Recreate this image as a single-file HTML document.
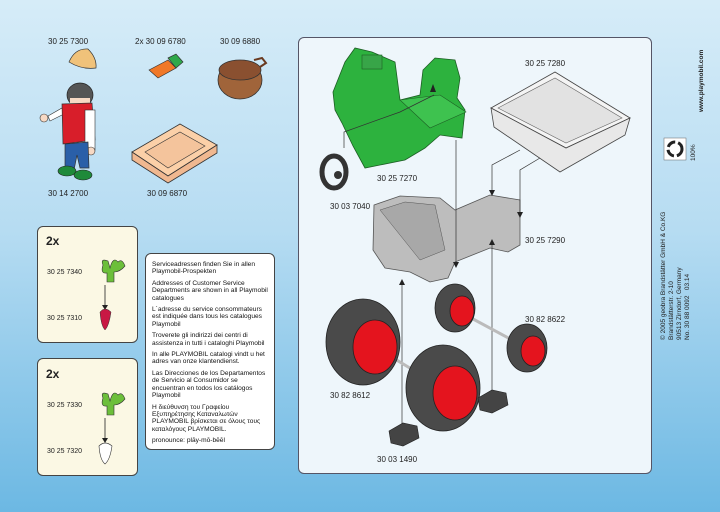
<!DOCTYPE html>
<html><head><meta charset="utf-8"><style>
html,body{margin:0;padding:0}
body{width:720px;height:512px;overflow:hidden;background:linear-gradient(#d6ecf8 0%,#b6dcf2 45%,#6cb8e3 100%);font-family:"Liberation Sans",sans-serif;position:relative}
.l{position:absolute;font-size:8px;color:#222;white-space:nowrap}
.box{position:absolute;background:#fbf8e4;border:1px solid #444;border-radius:6px}
.svc{position:absolute;left:145px;top:253px;width:130px;height:197px;background:#fff;border:1px solid #444;border-radius:6px;font-size:6.6px;line-height:7.4px;color:#111;padding:3px 6px;box-sizing:border-box}
.svc p{margin:4px 0}
.vert{position:absolute;transform:rotate(-90deg);transform-origin:left top;font-size:6.5px;line-height:8px;color:#222;white-space:nowrap}
</style></head><body>
<div class="l" style="left:48px;top:37px">30 25 7300</div>
<div class="l" style="left:135px;top:37px">2x 30 09 6780</div>
<div class="l" style="left:220px;top:37px">30 09 6880</div>
<div class="l" style="left:48px;top:189px">30 14 2700</div>
<div class="l" style="left:147px;top:189px">30 09 6870</div>

<svg style="position:absolute;left:0;top:0" width="300" height="210">
<path d="M69,62 Q75,48 88,49 Q97,58 96,68 Q82,70 69,62Z" fill="#f0c27a" stroke="#333" stroke-width=".7"/>
<path d="M149,70 L168,60 L176,68 L158,78Z" fill="#f07828" stroke="#333" stroke-width=".7"/>
<path d="M168,58 L176,54 L183,62 L176,68Z" fill="#2ea84a" stroke="#333" stroke-width=".7"/>
<ellipse cx="240" cy="80" rx="22" ry="19" fill="#a0643a" stroke="#333" stroke-width=".8"/>
<ellipse cx="240" cy="70" rx="21" ry="10" fill="#8a5030" stroke="#333" stroke-width=".8"/>
<path d="M254,60 l8,-2 4,5 -6,4" fill="none" stroke="#6a3a20" stroke-width="2"/>
<ellipse cx="80" cy="95" rx="13" ry="12" fill="#555" stroke="#222" stroke-width=".7"/>
<rect x="70" y="98" width="20" height="10" fill="#f7d9c4"/>
<path d="M48,116 L62,108 L64,114 L50,121Z" fill="#fff" stroke="#333" stroke-width=".6"/>
<circle cx="44" cy="118" r="4" fill="#f7d9c4" stroke="#333" stroke-width=".6"/>
<path d="M62,104 L92,103 L95,140 L63,144Z" fill="#d81e2a" stroke="#333" stroke-width=".7"/>
<rect x="85" y="110" width="10" height="40" fill="#fff" stroke="#333" stroke-width=".6"/>
<circle cx="91" cy="151" r="4" fill="#f7d9c4" stroke="#333" stroke-width=".6"/>
<path d="M65,144 L88,142 L89,168 L80,168 L77,155 L74,170 L65,170Z" fill="#2a5fa8" stroke="#333" stroke-width=".7"/>
<ellipse cx="67" cy="171" rx="9" ry="5" fill="#1f8a3a" stroke="#222" stroke-width=".6"/>
<ellipse cx="83" cy="175" rx="9" ry="5" fill="#1f8a3a" stroke="#222" stroke-width=".6"/>
<path d="M132,152 L180,124 L217,145 L168,176Z" fill="#fbd0a8" stroke="#333" stroke-width=".8"/>
<path d="M132,152 L132,160 L168,183 L217,153 L217,145 L168,176Z" fill="#f0b890" stroke="#333" stroke-width=".8"/>
<path d="M145,152 L180,132 L205,146 L168,168Z" fill="#f4c49c" stroke="#333" stroke-width=".6"/>
</svg>

<div class="box" style="left:37px;top:226px;width:99px;height:115px"></div>
<div class="box" style="left:37px;top:358px;width:99px;height:116px"></div>
<div class="l" style="left:46px;top:234px;font-size:12px;font-weight:bold">2x</div>
<div class="l" style="left:46px;top:367px;font-size:12px;font-weight:bold">2x</div>
<div class="l" style="left:47px;top:269px;font-size:7px">30 25 7340</div>
<div class="l" style="left:47px;top:315px;font-size:7px">30 25 7310</div>
<div class="l" style="left:47px;top:402px;font-size:7px">30 25 7330</div>
<div class="l" style="left:47px;top:448px;font-size:7px">30 25 7320</div>
<svg style="position:absolute;left:0;top:0" width="140" height="480">
<g id="lf"><path d="M103,265 Q100,258 108,261 L110,268 Q113,256 118,262 Q122,258 125,266 Q120,272 114,272 L114,282 L107,282 L107,273 Q100,274 103,265Z" fill="#6cbf3a" stroke="#333" stroke-width=".6"/></g>
<line x1="105" y1="285" x2="105" y2="305" stroke="#222" stroke-width=".8"/>
<path d="M102,305 L108,305 105,310Z" fill="#222"/>
<path d="M100,312 Q105,306 111,312 Q109,326 105,330 Q101,326 100,312Z" fill="#c81844" stroke="#333" stroke-width=".5"/>
<use href="#lf" transform="translate(0,133)"/>
<line x1="105" y1="418" x2="105" y2="438" stroke="#222" stroke-width=".8"/>
<path d="M102,438 L108,438 105,443Z" fill="#222"/>
<path d="M99,446 Q105,440 112,446 Q110,460 105,464 Q100,460 99,446Z" fill="#fff" stroke="#333" stroke-width=".6"/>
</svg>

<div class="svc">
<p>Serviceadressen finden Sie in allen Playmobil-Prospekten</p>
<p>Addresses of Customer Service Departments are shown in all Playmobil catalogues</p>
<p>L´adresse du service consommateurs est indiquée dans tous les catalogues Playmobil</p>
<p>Troverete gli indirizzi dei centri di assistenza in tutti i cataloghi Playmobil</p>
<p>In alle PLAYMOBIL catalogi vindt u het adres van onze klantendienst.</p>
<p>Las Direcciones de los Departamentos de Servicio al Consumidor se encuentran en todos los catálogos Playmobil</p>
<p>Η διεύθυνση του Γραφείου Εξυπηρέτησης Καταναλωτών PLAYMOBIL βρίσκεται σε όλους τους καταλόγους PLAYMOBIL.</p>
<p>pronounce: plāy-mō-bēēl</p>
</div>

<div style="position:absolute;left:298px;top:37px;width:354px;height:437px;background:#eef6fb;border:1px solid #556;border-radius:6px;box-sizing:border-box"></div>
<div class="l" style="left:525px;top:59px">30 25 7280</div>
<div class="l" style="left:377px;top:174px">30 25 7270</div>
<div class="l" style="left:330px;top:202px">30 03 7040</div>
<div class="l" style="left:525px;top:236px">30 25 7290</div>
<div class="l" style="left:525px;top:315px">30 82 8622</div>
<div class="l" style="left:330px;top:391px">30 82 8612</div>
<div class="l" style="left:377px;top:455px">30 03 1490</div>

<svg style="position:absolute;left:0;top:0" width="720" height="512">
<path d="M491,108 L555,72 L630,118 L566,148Z" fill="#f4f4f4" stroke="#444" stroke-width=".8"/>
<path d="M498,108 L555,78 L622,118 L566,143Z" fill="#e2e2e2" stroke="#666" stroke-width=".6"/>
<path d="M491,108 L494,127 L560,172 L625,135 L630,118 L566,148Z" fill="#e8e8e8" stroke="#444" stroke-width=".8"/>
<path d="M333,92 L345,62 L355,48 L372,52 L395,62 L400,100 L420,95 L423,70 L435,58 L455,60 L460,78 L457,98 L465,110 L462,138 L440,135 L425,148 L405,160 L380,165 L365,168 L353,146 L342,123 L335,110Z" fill="#2db23e" stroke="#1d5e24" stroke-width=".8"/>
<path d="M400,100 L440,95 L466,112 L430,128Z" fill="#3ec24f" stroke="#1d5e24" stroke-width=".6"/>
<rect x="362" y="55" width="20" height="14" fill="#38a548" stroke="#1d5e24" stroke-width=".6"/>
<ellipse cx="334" cy="172" rx="12" ry="16" fill="none" stroke="#333" stroke-width="5"/>
<circle cx="338" cy="175" r="4" fill="#333"/>
<path d="M374,205 L400,196 L440,198 L455,210 L490,195 L520,200 L520,245 L508,252 L490,248 L455,262 L448,278 L430,282 L410,272 L385,268 L373,250Z" fill="#bdbdbd" stroke="#555" stroke-width=".8"/>
<path d="M380,210 L405,202 L435,205 L445,250 L420,260Z" fill="#a8a8a8" stroke="#555" stroke-width=".5"/>
<g stroke="#333" stroke-width=".7" fill="none">
<polyline points="344,148 344,132 400,112 434,95"/>
<line x1="456" y1="140" x2="456" y2="262"/>
<polyline points="520,150 492,165 492,190"/>
<polyline points="540,158 520,170 520,212"/>
<line x1="402" y1="285" x2="402" y2="430"/>
<line x1="492" y1="245" x2="492" y2="398"/>
</g>
<g fill="#222"><path d="M453,262 L459,262 456,268Z"/><path d="M489,190 L495,190 492,196Z"/><path d="M517,212 L523,212 520,218Z"/><path d="M399,285 L405,285 402,279Z"/><path d="M489,245 L495,245 492,239Z"/><path d="M430,92 L436,92 433,84Z"/></g>
<line x1="375" y1="347" x2="443" y2="388" stroke="#bbb" stroke-width="3"/>
<line x1="460" y1="312" x2="527" y2="348" stroke="#bbb" stroke-width="3"/>
<g stroke="#222" stroke-width=".8">
<ellipse cx="363" cy="342" rx="37" ry="43" fill="#4a4a4a"/>
<ellipse cx="375" cy="347" rx="22" ry="27" fill="#e4141e"/>
<ellipse cx="455" cy="308" rx="20" ry="24" fill="#4a4a4a"/>
<ellipse cx="462" cy="311" rx="12" ry="15" fill="#e4141e"/>
<ellipse cx="527" cy="348" rx="20" ry="24" fill="#4a4a4a"/>
<ellipse cx="533" cy="351" rx="12" ry="15" fill="#e4141e"/>
<ellipse cx="443" cy="388" rx="37" ry="43" fill="#4a4a4a"/>
<ellipse cx="455" cy="393" rx="22" ry="27" fill="#e4141e"/>
</g>
<path d="M478,398 L492,390 L506,393 L508,405 L492,413 L480,410Z" fill="#444" stroke="#222" stroke-width=".6"/>
<path d="M389,431 L403,423 L417,426 L419,438 L403,446 L391,443Z" fill="#444" stroke="#222" stroke-width=".6"/>
<rect x="664" y="138" width="22" height="22" fill="#fff" stroke="#666" stroke-width=".5"/>
<circle cx="675" cy="149" r="7" fill="none" stroke="#222" stroke-width="3" stroke-dasharray="9 3"/>
</svg>
<div class="vert" style="left:698px;top:112px;font-weight:bold">www.playmobil.com</div>
<div class="vert" style="left:690px;top:161px">100%</div>
<div class="vert" style="left:660px;top:340px">© 2005 geobra Brandstätter GmbH &amp; Co.KG<br>Brandstätterstr. 2-10<br>90513 Zirndorf, Germany<br>No. 30 88 0092&nbsp;&nbsp;&nbsp;03.14</div>
</body></html>
